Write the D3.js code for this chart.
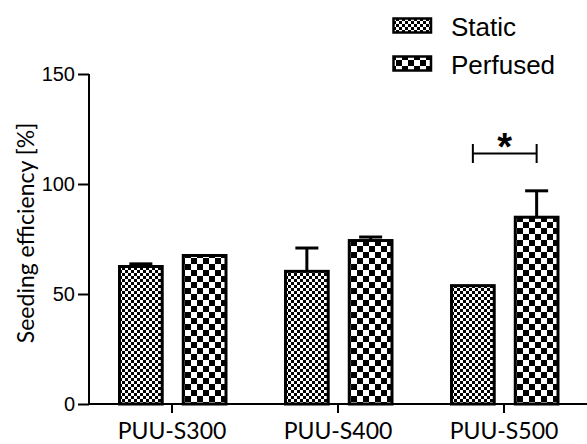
<!DOCTYPE html>
<html>
<head>
<meta charset="utf-8">
<script src="https://cdn.jsdelivr.net/npm/d3@7/dist/d3.min.js"></script>
<style>
  html, body { margin: 0; padding: 0; background: #fff; }
  svg { display: block; }
</style>
</head>
<body>
<svg id="chart" width="587" height="444"></svg>
<script>
const categories = ["PUU-S300", "PUU-S400", "PUU-S500"];
const series = ["Static", "Perfused"];
const staticValues = [62.5, 60.3, 53.8];
const staticErrors = [1.2, 10.6, 0];
const perfusedValues = [67.5, 74.3, 84.9];
const perfusedErrors = [0, 1.6, 12.0];
const yTicks = [0, 50, 100, 150];
const yTitle = "Seeding efficiency [%]";
const significance = { category: "PUU-S500", label: "*" };

const svg = d3.select("#chart");
const defs = svg.append("defs");

function checker(id, size) {
  const p = defs.append("pattern")
    .attr("id", id).attr("patternUnits", "userSpaceOnUse")
    .attr("width", size * 2).attr("height", size * 2);
  p.append("rect").attr("width", size * 2).attr("height", size * 2).attr("fill", "#fff");
  p.append("rect").attr("width", size).attr("height", size).attr("fill", "#000");
  p.append("rect").attr("x", size).attr("y", size).attr("width", size).attr("height", size).attr("fill", "#000");
}
checker("pStatic", 3);
checker("pPerfused", 6);
const patternOf = { Static: "url(#pStatic)", Perfused: "url(#pPerfused)" };

const y = d3.scaleLinear().domain([0, 150]).range([404, 74]);
const x0 = d3.scaleBand().domain(categories).range([89, 587]).padding(0);
const x1 = d3.scaleBand().domain(series).range([30.5, 137]).paddingInner(0.33);

const data = categories.map((c, i) => ({
  cat: c,
  bars: [
    { s: "Static", v: staticValues[i], e: staticErrors[i] },
    { s: "Perfused", v: perfusedValues[i], e: perfusedErrors[i] }
  ]
}));

const groups = svg.append("g").selectAll("g").data(data).join("g")
  .attr("transform", d => `translate(${x0(d.cat)},0)`);

// error bars (behind bars)
groups.selectAll("g.err").data(d => d.bars.filter(b => b.e > 0)).join("g").attr("class", "err")
  .each(function(b) {
    const g = d3.select(this);
    const cx = x1(b.s) + x1.bandwidth() / 2;
    g.append("line").attr("x1", cx).attr("x2", cx)
      .attr("y1", y(b.v)).attr("y2", y(b.v + b.e))
      .attr("stroke", "#000").attr("stroke-width", 3);
    g.append("line").attr("x1", cx - 11.5).attr("x2", cx + 11.5)
      .attr("y1", y(b.v + b.e)).attr("y2", y(b.v + b.e))
      .attr("stroke", "#000").attr("stroke-width", 3);
  });

groups.selectAll("rect.bar").data(d => d.bars).join("rect").attr("class", "bar")
  .attr("x", b => x1(b.s))
  .attr("width", x1.bandwidth())
  .attr("y", b => y(b.v))
  .attr("height", b => y(0) - y(b.v))
  .attr("fill", b => patternOf[b.s])
  .attr("stroke", "#000").attr("stroke-width", 3);

// y axis
const yAxis = svg.append("g").attr("transform", "translate(89,0)")
  .call(d3.axisLeft(y).tickValues(yTicks).tickSize(11).tickPadding(3));
yAxis.select(".domain").attr("stroke-width", 2).attr("d", `M0,${y(150)}V${y(0)}`);
yAxis.selectAll(".tick line").attr("stroke-width", 2);
yAxis.selectAll(".tick text").attr("font-family", "'Liberation Sans', Arial, sans-serif")
  .attr("font-size", 20).attr("fill", "#000");

// x axis
const xAxis = svg.append("g").attr("transform", `translate(0,${y(0)})`)
  .call(d3.axisBottom(x0).tickSize(9).tickPadding(4));
xAxis.select(".domain").attr("stroke-width", 2).attr("d", `M89,0H587`);
xAxis.selectAll(".tick line").attr("stroke-width", 2);
xAxis.selectAll(".tick text").attr("font-family", "Lato, 'Open Sans', sans-serif")
  .attr("font-size", 23).attr("fill", "#000").attr("dy", "0.95em");

// y title
svg.append("text")
  .attr("transform", `translate(34,233) rotate(-90)`)
  .attr("text-anchor", "middle")
  .attr("font-family", "Lato, 'Open Sans', sans-serif")
  .attr("font-size", 23)
  .text(yTitle);

// significance bracket
const sx = x0(significance.category);
const xa = sx + x1("Static") + x1.bandwidth() / 2;
const xb = sx + x1("Perfused") + x1.bandwidth() / 2;
const by = 153.5;
const br = svg.append("g").attr("stroke", "#000").attr("stroke-width", 2);
br.append("line").attr("x1", xa).attr("x2", xb).attr("y1", by).attr("y2", by);
br.append("line").attr("x1", xa).attr("x2", xa).attr("y1", by - 9.5).attr("y2", by + 9.5);
br.append("line").attr("x1", xb).attr("x2", xb).attr("y1", by - 9.5).attr("y2", by + 9.5);
svg.append("text").attr("x", (xa + xb) / 2).attr("y", 160)
  .attr("text-anchor", "middle")
  .attr("font-family", "'Liberation Sans', Arial, sans-serif")
  .attr("font-weight", "bold").attr("font-size", 38)
  .text(significance.label);

// legend
const legend = svg.append("g");
series.forEach((s, i) => {
  const ly = 18 + i * 38;
  legend.append("rect").attr("x", 393.5).attr("y", ly + 0.5).attr("width", 37.5).attr("height", 14)
    .attr("fill", patternOf[s]).attr("stroke", "#000").attr("stroke-width", 2.5);
  legend.append("text").attr("x", 451).attr("y", ly + 18)
    .attr("font-family", "'Liberation Sans', Arial, sans-serif")
    .attr("font-size", 26).attr("fill", "#000")
    .text(s);
});
</script>
</body>
</html>
